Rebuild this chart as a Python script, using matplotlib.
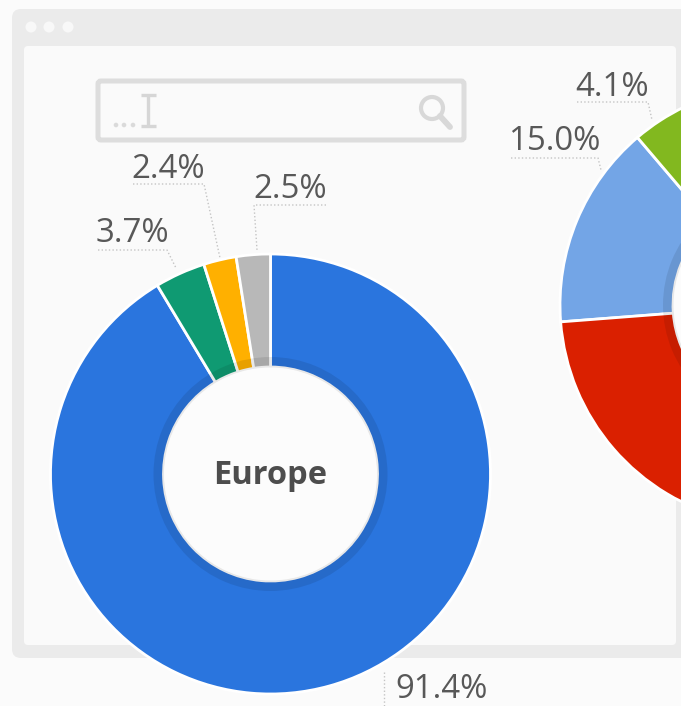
import matplotlib
matplotlib.use("Agg")
import matplotlib.pyplot as plt
from matplotlib.patches import FancyBboxPatch, Circle

W, H = 681, 706

# Data
europe_labels = ["91.4%", "3.7%", "2.4%", "2.5%"]
europe_values = [91.4, 3.7, 2.4, 2.5]
europe_colors = ["#2a75de", "#0f9a72", "#ffb000", "#b8b8b8"]
# Right donut is cropped by the picture: only these three slices can be seen
# (the red value holds everything that lies beyond the crop)
right_labels = ["15.0%", "4.1%"]
right_values = [15.0, 4.1, 80.9]
right_colors = ["#73a5e6", "#82b81f", "#da2000"]
center_title = "Europe"

plt.rcParams["font.family"] = ["Open Sans", "DejaVu Sans"]
fig = plt.figure(figsize=(W / 100, H / 100), dpi=100, facecolor="#fbfbfb")
ax = fig.add_axes([0, 0, 1, 1])
ax.set_facecolor("#fbfbfb")


def Y(py):
    return H - py


# Browser window frame
ax.add_patch(FancyBboxPatch((20, Y(650)), 680, 633, boxstyle="round,pad=8,rounding_size=9",
                            fc="#ebebeb", ec="none", zorder=1))
ax.add_patch(FancyBboxPatch((27, Y(642)), 646, 593, boxstyle="round,pad=3,rounding_size=4",
                            fc="#fafafa", ec="none", zorder=2))
for x in (31, 49, 68):
    ax.add_patch(Circle((x, Y(27)), 5.5, fc="#f8f8f8", ec="none", zorder=2))

# Search box
ax.add_patch(FancyBboxPatch((98, Y(140)), 366, 59, boxstyle="round,pad=0,rounding_size=3",
                            fc="#fafafa", ec="#dddddd", lw=3.6, zorder=3))
for x in (116, 124, 133):
    ax.add_patch(Circle((x, Y(125)), 2.3, fc="#dadada", ec="none", zorder=3))
cur = dict(color="#d6d6d6", lw=2.4, zorder=3, solid_capstyle="butt")
ax.plot([148, 148], [Y(95), Y(127)], **cur)
ax.plot([141, 156], [Y(95), Y(95)], **cur)
ax.plot([141, 156], [Y(126), Y(126)], **cur)
ax.add_patch(Circle((432, Y(108)), 11, fc="none", ec="#d8d8d8", lw=3, zorder=3))
ax.plot([440, 450], [Y(116), Y(127)], color="#d8d8d8", lw=4.2, zorder=3, solid_capstyle="round")


def donut(values, colors, center, start):
    cx, cy = center[0], Y(center[1])
    wedges, _ = ax.pie(values, colors=colors, startangle=start, counterclock=False,
                       radius=220, center=(cx, cy), frame=True,
                       wedgeprops=dict(width=113, edgecolor="#ffffff", linewidth=2.0))
    for w in wedges:
        w.set_zorder(4)
    ring, _ = ax.pie([1], colors=["#000000"], radius=117, center=(cx, cy), frame=True,
                     wedgeprops=dict(width=11, edgecolor="none", alpha=0.09))
    ring[0].set_zorder(5)
    ax.add_patch(Circle((cx, cy), 106.5, fc="#fcfcfc", ec="none", zorder=6))


donut(europe_values, europe_colors, (270.5, 474), 90)
donut(right_values, right_colors, (780, 305), 184.4)

ax.text(270, Y(475), center_title, ha="center", va="center", fontsize=23.5, fontweight="bold",
        color="#4d4d4d", zorder=7)

# Labels and dotted leaders
label_pos = {
    "91.4%": (442, 690), "3.7%": (132, 234), "2.4%": (168, 169), "2.5%": (290, 189),
    "15.0%": (554, 142), "4.1%": (612, 87),
}
leaders = {
    "91.4%": [(384, 672), (384, 706)],
    "3.7%": [(98, 250), (167, 250), (176, 268)],
    "2.4%": [(133, 184), (204, 184), (220, 258)],
    "2.5%": [(326, 205), (254, 205), (257, 250)],
    "15.0%": [(511, 158), (598, 158), (601, 170)],
    "4.1%": [(577, 102), (648, 102), (652, 120)],
}
for lab in europe_labels + right_labels:
    x, y = label_pos[lab]
    ax.text(x, Y(y), lab, ha="center", va="center", fontsize=23.8, color="#585858", zorder=7)
    pts = leaders[lab]
    ax.plot([p[0] for p in pts], [Y(p[1]) for p in pts], color="#c4c4c4", lw=1.0,
            ls=(0, (1, 1.6)), zorder=7)

ax.set_xlim(0, W)
ax.set_ylim(0, H)
ax.set_aspect("equal")
ax.axis("off")
fig.savefig("out.png", dpi=100, facecolor=fig.get_facecolor())
